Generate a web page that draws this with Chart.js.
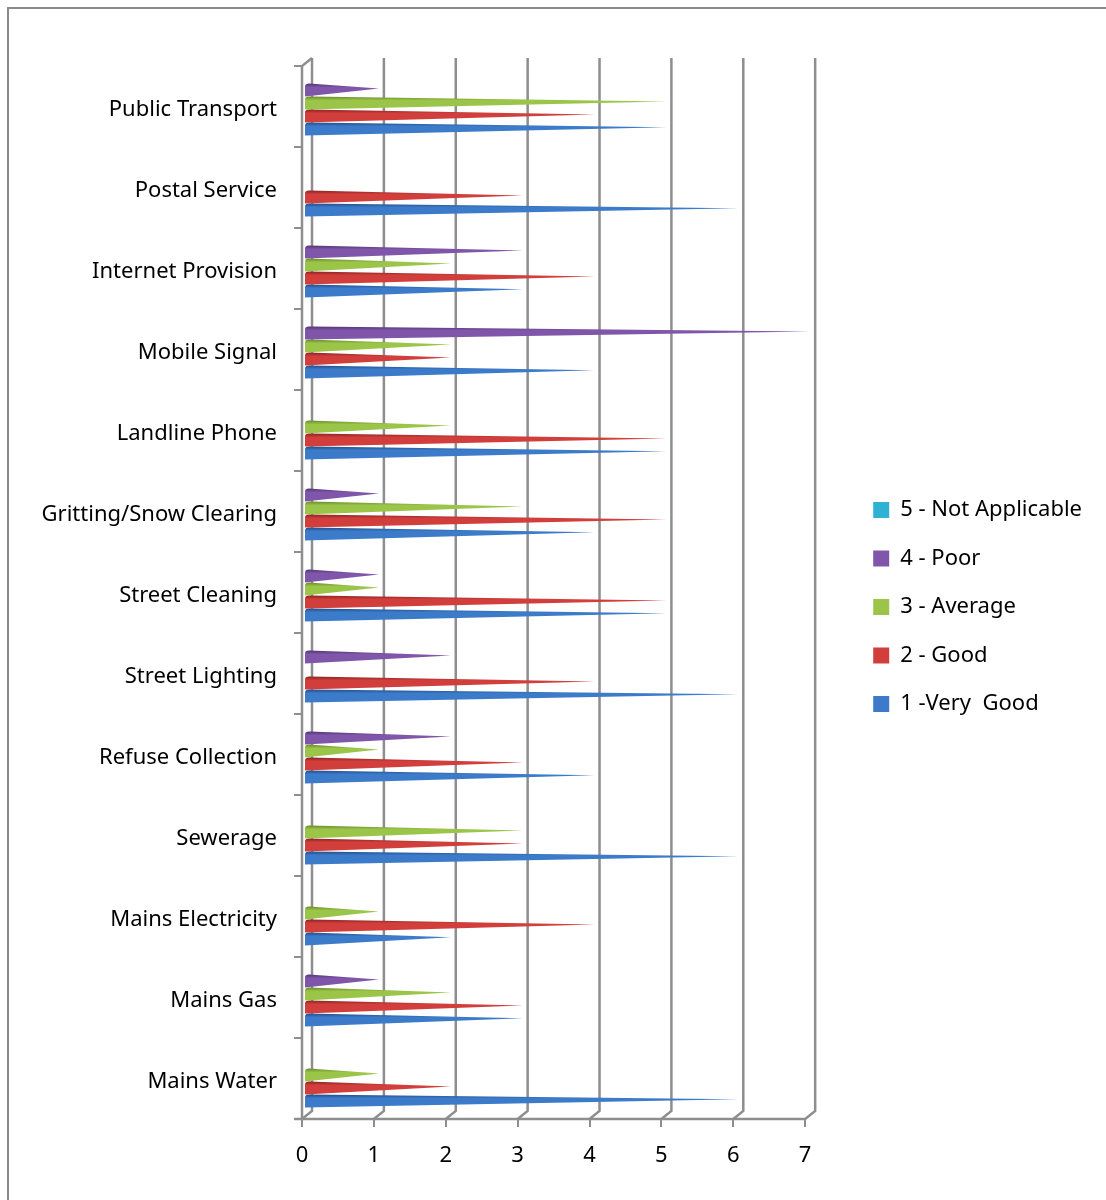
<!DOCTYPE html>
<html>
<head>
<meta charset="utf-8">
<title>Service ratings</title>
<script src="https://cdn.jsdelivr.net/npm/chart.js@4.4.1/dist/chart.umd.min.js"></script>
<style>
  html, body { margin: 0; padding: 0; background: #fff; overflow: hidden; }
  #wrap { position: relative; width: 1106px; height: 1200px; }
</style>
</head>
<body>
<div id="wrap"><canvas id="chart"></canvas></div>
<script>
const categories = [
    "Public Transport", "Postal Service", "Internet Provision", "Mobile Signal",
    "Landline Phone", "Gritting/Snow Clearing", "Street Cleaning", "Street Lighting",
    "Refuse Collection", "Sewerage", "Mains Electricity", "Mains Gas", "Mains Water"
];
const notApplicable = [0, 0, 0, 0, 0, 0, 0, 0, 0, 0, 0, 0, 0];
const poor          = [1, 0, 3, 7, 0, 1, 1, 2, 2, 0, 0, 1, 0];
const average       = [5, 0, 2, 2, 2, 3, 1, 0, 1, 3, 1, 2, 1];
const good          = [4, 3, 4, 2, 5, 5, 5, 4, 3, 3, 4, 3, 2];
const veryGood      = [5, 6, 3, 4, 5, 4, 5, 6, 4, 6, 2, 3, 6];
const valueTicks = [0, 1, 2, 3, 4, 5, 6, 7];

const FONT = "'Noto Sans', 'DejaVu Sans', sans-serif";
const frameColor = "#8e8e8e";

// cone colours: main fill + darker top shading
const cone = {
    "5 - Not Applicable": { main: "#2fb1d4", dark: "#1d7f99" },
    "4 - Poor":           { main: "#7f56a9", dark: "#563577" },
    "3 - Average":        { main: "#9bc548", dark: "#6a8c2b" },
    "2 - Good":           { main: "#d13e3b", dark: "#8c2422" },
    "1 -Very  Good":      { main: "#3b7bca", dark: "#234d88" }
};

// outer frame of the chart object
const framePlugin = {
    id: "outerFrame",
    beforeDraw(chart) {
        const ctx = chart.ctx;
        ctx.save();
        ctx.fillStyle = "#fff";
        ctx.fillRect(0, 0, chart.width, chart.height);
        ctx.strokeStyle = "#8a8a8a";
        ctx.lineWidth = 2;
        ctx.strokeRect(8, 8, chart.width + 50, chart.height + 50);
        ctx.restore();
    }
};

// 3D walls: back gridlines, floor and front left wall
const wallsPlugin = {
    id: "walls3d",
    beforeDatasetsDraw(chart) {
        const ctx = chart.ctx;
        const xs = chart.scales.x;
        const { top, bottom } = chart.chartArea;
        const dX = 10, dY = 8;
        const x0 = xs.getPixelForValue(0);
        const x7 = xs.getPixelForValue(valueTicks[valueTicks.length - 1]);
        ctx.save();
        ctx.strokeStyle = frameColor;
        ctx.lineWidth = 2.5;
        valueTicks.forEach(v => {
            const px = xs.getPixelForValue(v);
            ctx.beginPath();
            ctx.moveTo(px + dX, top - dY);
            ctx.lineTo(px + dX, bottom - dY);
            ctx.lineTo(px, bottom);
            ctx.stroke();
        });
        ctx.beginPath();
        ctx.moveTo(x0 - 8, bottom);
        ctx.lineTo(x7, bottom);
        ctx.stroke();
        ctx.beginPath();
        ctx.moveTo(x0, bottom);
        ctx.lineTo(x0, top);
        ctx.lineTo(x0 + dX, top - dY);
        ctx.stroke();
        ctx.restore();
    }
};

// draw bars as cones instead of rectangles
const conePlugin = {
    id: "cones",
    beforeDatasetDraw(chart, args) {
        const ctx = chart.ctx;
        const ds = chart.data.datasets[args.index];
        const col = cone[ds.label];
        ctx.save();
        args.meta.data.forEach((el, i) => {
            if (!ds.data[i]) return;
            const { x, y, base, height } = el.getProps(["x", "y", "base", "height"], true);
            const yT = y - height / 2 - 3.5;
            const yB = y + height / 2 - 3.5;
            const yM = yT + height * 0.38;
            const xb = base + 2;
            const xt = x + 5;
            const g = ctx.createLinearGradient(0, yT, 0, yB);
            g.addColorStop(0, col.dark);
            g.addColorStop(0.3, col.main);
            g.addColorStop(1, col.main);
            ctx.beginPath();
            ctx.moveTo(xb, yT + 3);
            ctx.quadraticCurveTo(xb, yT, xb + 4, yT);
            ctx.lineTo(xt, yM);
            ctx.lineTo(xb, yB);
            ctx.closePath();
            ctx.fillStyle = g;
            ctx.fill();
        });
        ctx.restore();
        return false;
    }
};

const makeSet = (label, data) => ({
    label: label,
    data: data,
    backgroundColor: cone[label].main,
    borderWidth: 0
});

const ctx = document.getElementById("chart").getContext("2d");
new Chart(ctx, {
    type: "bar",
    data: {
        labels: categories,
        datasets: [
            makeSet("5 - Not Applicable", notApplicable),
            makeSet("4 - Poor", poor),
            makeSet("3 - Average", average),
            makeSet("2 - Good", good),
            makeSet("1 -Very  Good", veryGood)
        ]
    },
    options: {
        indexAxis: "y",
        responsive: true,
        maintainAspectRatio: false,
        animation: false,
        categoryPercentage: 0.8,
        barPercentage: 1,
        layout: { padding: { top: 66, right: 14, bottom: 0, left: 0 } },
        plugins: {
            tooltip: { enabled: false },
            legend: {
                position: "right",
                fullSize: false,
                title: { display: true, text: "", font: { size: 10 }, padding: { top: 17, bottom: 0 } },
                labels: {
                    boxWidth: 16,
                    boxHeight: 16,
                    padding: 26.5,
                    color: "#000",
                    font: { family: FONT, size: 22 }
                }
            }
        },
        scales: {
            x: {
                min: 0,
                max: 7.578,
                afterBuildTicks: s => { s.ticks = valueTicks.map(v => ({ value: v })); },
                afterFit: s => { s.height = 81; },
                ticks: { padding: 16, color: "#000", font: { family: FONT, size: 22 } },
                grid: { drawOnChartArea: false, tickLength: 8, color: frameColor, lineWidth: 2 },
                border: { display: false }
            },
            y: {
                afterFit: s => { s.width = 302; },
                ticks: { padding: 17, labelOffset: 3, color: "#000", font: { family: FONT, size: 22 } },
                grid: { drawOnChartArea: false, tickLength: 8, color: frameColor, lineWidth: 2 },
                border: { display: false }
            }
        }
    },
    plugins: [framePlugin, wallsPlugin, conePlugin]
});
</script>
</body>
</html>
